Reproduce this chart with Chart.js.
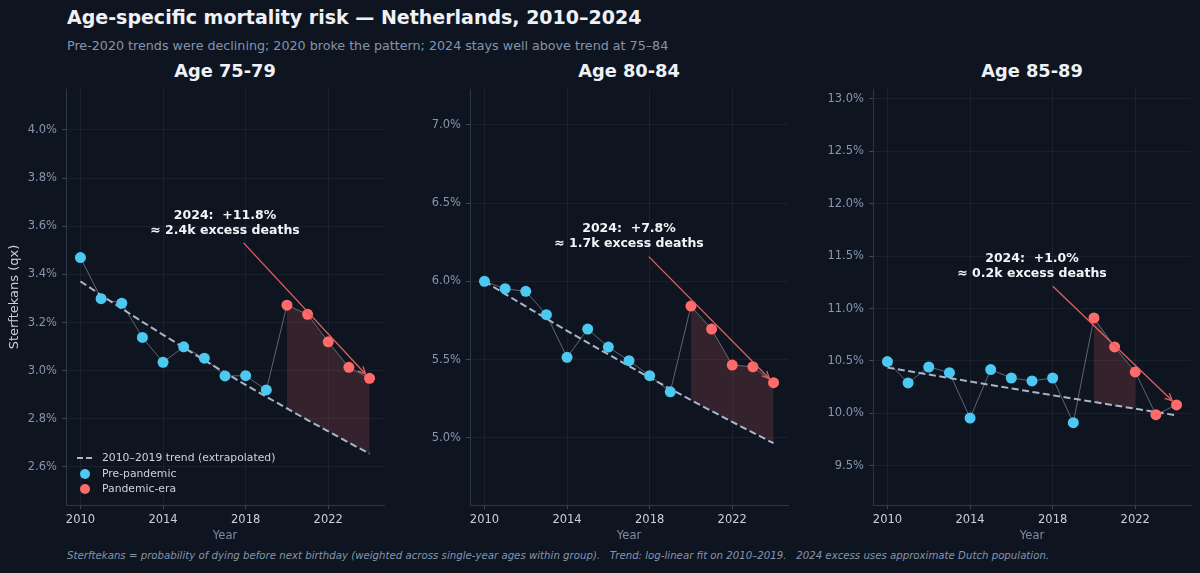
<!DOCTYPE html>
<html>
<head>
<meta charset="utf-8">
<script src="https://cdn.jsdelivr.net/npm/chart.js@4.4.1/dist/chart.umd.min.js"></script>
<style>
  body { margin: 0; background: #0e1521; width: 1200px; height: 573px; overflow: hidden; position: relative; font-family: "DejaVu Sans", sans-serif; }
  .t { position: absolute; white-space: nowrap; }
  #title { left: 67px; top: 6px; font-size: 19px; font-weight: bold; color: #eef1f6; }
  #sub { left: 67px; top: 38px; font-size: 12.7px; color: #8494ad; }
  .pt { top: 60px; font-size: 17.8px; font-weight: bold; color: #eef1f6; transform: translateX(-50%); }
  #foot { left: 67px; top: 550px; font-size: 10.2px; font-style: italic; color: #8494ad; }
  canvas { position: absolute; top: 80px; }
</style>
</head>
<body>
<div class="t" id="title">Age-specific mortality risk — Netherlands, 2010–2024</div>
<div class="t" id="sub">Pre-2020 trends were declining; 2020 broke the pattern; 2024 stays well above trend at 75–84</div>
<div class="t pt" id="pt0"></div>
<div class="t pt" id="pt1"></div>
<div class="t pt" id="pt2"></div>
<canvas id="c0" width="400" height="470" style="left:0px"></canvas>
<canvas id="c1" width="400" height="470" style="left:404px"></canvas>
<canvas id="c2" width="400" height="470" style="left:807px"></canvas>
<div class="t" id="foot">Sterftekans = probability of dying before next birthday (weighted across single-year ages within group).&nbsp;&nbsp; Trend: log-linear fit on 2010–2019.&nbsp;&nbsp; 2024 excess uses approximate Dutch population.</div>

<script>
// data (qx in %)
var years = [2010, 2011, 2012, 2013, 2014, 2015, 2016, 2017, 2018, 2019, 2020, 2021, 2022, 2023, 2024];
var xTicks = [2010, 2014, 2018, 2022];
var pandemicStart = 2020;

var ageGroups = ['Age 75-79', 'Age 80-84', 'Age 85-89'];

var qx7579 = [3.470, 3.299, 3.280, 3.138, 3.035, 3.099, 3.052, 2.978, 2.979, 2.920, 3.272, 3.234, 3.120, 3.014, 2.968];
var trend7579 = [3.371, 3.314, 3.258, 3.203, 3.149, 3.096, 3.043, 2.992, 2.941, 2.892, 2.843, 2.795, 2.748, 2.701, 2.655];

var qx8084 = [6.000, 5.953, 5.936, 5.787, 5.514, 5.695, 5.580, 5.493, 5.397, 5.294, 5.842, 5.695, 5.465, 5.454, 5.352];
var trend8084 = [6.000, 5.919, 5.840, 5.762, 5.684, 5.608, 5.533, 5.458, 5.385, 5.313, 5.241, 5.171, 5.101, 5.033, 4.965];

var qx8589 = [10.494, 10.290, 10.442, 10.388, 9.955, 10.417, 10.337, 10.309, 10.337, 9.911, 10.910, 10.633, 10.395, 9.987, 10.080];
var trend8589 = [10.436, 10.403, 10.370, 10.337, 10.303, 10.270, 10.238, 10.205, 10.172, 10.140, 10.108, 10.076, 10.044, 10.012, 9.980];

var yTicks7579 = [2.6, 2.8, 3.0, 3.2, 3.4, 3.6, 3.8, 4.0];
var yTicks8084 = [5.0, 5.5, 6.0, 6.5, 7.0];
var yTicks8589 = [9.5, 10.0, 10.5, 11.0, 11.5, 12.0, 12.5, 13.0];

var excessPct = ['+11.8%', '+7.8%', '+1.0%'];
var excessDeaths = ['2.4k', '1.7k', '0.2k'];

// colours
var BLUE = '#4cc9f0', CORAL = '#ff6b6b', TREND = '#a9b6cc';
var GRID = 'rgba(255,255,255,0.05)';

var panels = [
  { q: qx7579, tr: trend7579, ticks: yTicks7579, min: 2.442, max: 4.17, annoY: 3.614, yTitle: true, legend: true },
  { q: qx8084, tr: trend8084, ticks: yTicks8084, min: 4.57, max: 7.23, annoY: 6.286, yTitle: false, legend: false },
  { q: qx8589, tr: trend8589, ticks: yTicks8589, min: 9.125, max: 13.095, annoY: 11.403, yTitle: false, legend: false }
];

function pts(vals, keep) {
  var out = [];
  years.forEach(function(yr, i) {
    if (!keep || keep(yr, i)) out.push({ x: yr, y: vals[i] });
  });
  return out;
}

// annotation text + arrow to the 2024 point
var annoPlugin = {
  id: 'anno',
  afterDatasetsDraw: function(chart, args, opts) {
    if (!opts.lines) return;
    var ctx = chart.ctx, xs = chart.scales.x, ys = chart.scales.y;
    var cx = xs.getPixelForValue(opts.x), cy = ys.getPixelForValue(opts.y);
    var px = xs.getPixelForValue(opts.px), py = ys.getPixelForValue(opts.py);
    var lh = 15;
    ctx.save();
    ctx.font = 'bold 12.5px "DejaVu Sans"';
    ctx.fillStyle = '#f2f4f8';
    ctx.textAlign = 'center';
    ctx.textBaseline = 'middle';
    ctx.fillText(opts.lines[0], cx, cy - lh / 2);
    ctx.fillText(opts.lines[1], cx, cy + lh / 2);

    var dx = px - cx, dy = py - cy;
    var len = Math.sqrt(dx * dx + dy * dy);
    var t0 = (lh + 5) / dy, t1 = 1 - 6 / len;
    var sx = cx + dx * t0, sy = cy + dy * t0;
    var ex = cx + dx * t1, ey = cy + dy * t1;
    ctx.strokeStyle = '#e0605f';
    ctx.lineWidth = 1.3;
    ctx.beginPath();
    ctx.moveTo(sx, sy);
    ctx.lineTo(ex, ey);
    ctx.stroke();
    var ang = Math.atan2(ey - sy, ex - sx);
    ctx.beginPath();
    ctx.moveTo(ex - 8 * Math.cos(ang - 0.45), ey - 8 * Math.sin(ang - 0.45));
    ctx.lineTo(ex, ey);
    ctx.lineTo(ex - 8 * Math.cos(ang + 0.45), ey - 8 * Math.sin(ang + 0.45));
    ctx.stroke();
    ctx.restore();
  }
};

// legend inside the first panel, bottom-left
var legendPlugin = {
  id: 'innerLegend',
  afterDraw: function(chart, args, opts) {
    if (!opts.show) return;
    var ctx = chart.ctx, a = chart.chartArea;
    var x = a.left + 11, y0 = a.bottom - 47;
    ctx.save();
    ctx.font = '10.8px "DejaVu Sans"';
    ctx.fillStyle = '#ccd3dd';
    ctx.textBaseline = 'middle';
    ctx.strokeStyle = TREND;
    ctx.lineWidth = 2;
    ctx.setLineDash([6, 3]);
    ctx.beginPath();
    ctx.moveTo(x, y0);
    ctx.lineTo(x + 17, y0);
    ctx.stroke();
    ctx.setLineDash([]);
    ctx.fillText('2010–2019 trend (extrapolated)', x + 25, y0);
    var items = [['Pre-pandemic', BLUE], ['Pandemic-era', CORAL]];
    items.forEach(function(it, k) {
      var yy = y0 + 16 * (k + 1) - k * 1;
      ctx.beginPath();
      ctx.fillStyle = it[1];
      ctx.arc(x + 8, yy, 5, 0, Math.PI * 2);
      ctx.fill();
      ctx.fillStyle = '#ccd3dd';
      ctx.fillText(it[0], x + 25, yy);
    });
    ctx.restore();
  }
};

panels.forEach(function(p, idx) {
  document.getElementById('pt' + idx).textContent = ageGroups[idx];

  // contiguous run of pandemic years above trend
  var fillIdx = [];
  for (var i = years.indexOf(pandemicStart); i < years.length && p.q[i] > p.tr[i]; i++) fillIdx.push(i);
  var inFill = function(yr, i) { return fillIdx.indexOf(i) >= 0; };

  var last = years.length - 1;

  var canvas = document.getElementById('c' + idx);
  var chart = new Chart(canvas, {
    type: 'line',
    data: {
      datasets: [
        { data: pts(p.q, function(yr) { return yr < pandemicStart; }), showLine: false, pointRadius: 5.5, pointBackgroundColor: BLUE, pointBorderColor: BLUE, pointBorderWidth: 0, order: 0 },
        { data: pts(p.q, function(yr) { return yr >= pandemicStart; }), showLine: false, pointRadius: 5.5, pointBackgroundColor: CORAL, pointBorderColor: CORAL, pointBorderWidth: 0, order: 0 },
        { data: pts(p.tr), borderColor: TREND, borderWidth: 2, borderDash: [7, 3.5], pointRadius: 0, fill: false, order: 1 },
        { data: pts(p.q), borderColor: 'rgba(190,198,212,0.45)', borderWidth: 1, pointRadius: 0, fill: false, order: 2 },
        { data: pts(p.tr, inFill), borderWidth: 0, borderColor: 'rgba(0,0,0,0)', pointRadius: 0, fill: false, order: 4 },
        { data: pts(p.q, inFill), borderWidth: 0, borderColor: 'rgba(0,0,0,0)', pointRadius: 0, fill: 4, backgroundColor: 'rgba(255,107,107,0.16)', order: 3 }
      ]
    },
    options: {
      responsive: false,
      animation: false,
      layout: { padding: { top: 9, right: 16, left: 0, bottom: 0 } },
      plugins: {
        legend: { display: false },
        tooltip: { enabled: false },
        anno: { x: 2017, y: p.annoY, px: years[last], py: p.q[last], lines: ['2024:  ' + excessPct[idx], '≈ ' + excessDeaths[idx] + ' excess deaths'] },
        innerLegend: { show: p.legend }
      },
      scales: {
        x: {
          type: 'linear', min: 2009.3, max: 2024.7,
          afterBuildTicks: function(s) { s.ticks = xTicks.map(function(v) { return { value: v }; }); },
          ticks: { color: '#c9d0db', font: { family: 'DejaVu Sans', size: 11.5 }, padding: 4, maxRotation: 0, callback: function(v) { return String(v); } },
          grid: { color: GRID, tickColor: '#3a4659', tickLength: 4 },
          border: { color: '#2b3647' },
          title: { display: true, text: 'Year', color: '#7f8ca3', font: { family: 'DejaVu Sans', size: 11.5 }, padding: { top: 7, bottom: 7 } },
          afterFit: function(s) { s.height = 45; s.paddingLeft = 0; s.paddingRight = 0; }
        },
        y: {
          min: p.min, max: p.max,
          afterBuildTicks: function(s) { s.ticks = p.ticks.map(function(v) { return { value: v }; }); },
          ticks: { color: '#8796ae', font: { family: 'DejaVu Sans', size: 11.5 }, padding: 5, callback: function(v) { return v.toFixed(1) + '%'; } },
          grid: { color: GRID, tickColor: '#3a4659', tickLength: 4 },
          border: { color: '#2b3647' },
          title: { display: p.yTitle, text: 'Sterftekans (qx)', color: '#c9d0db', font: { family: 'DejaVu Sans', size: 13 }, padding: { top: 7, bottom: 7 } },
          afterFit: function(s) { s.width = 66; s.paddingTop = 0; s.paddingBottom = 0; }
        }
      }
    },
    plugins: [annoPlugin, legendPlugin]
  });

  var area = chart.chartArea;
  var left = parseFloat(canvas.style.left);
  document.getElementById('pt' + idx).style.left = (left + (area.left + area.right) / 2) + 'px';
});
</script>
</body>
</html>
